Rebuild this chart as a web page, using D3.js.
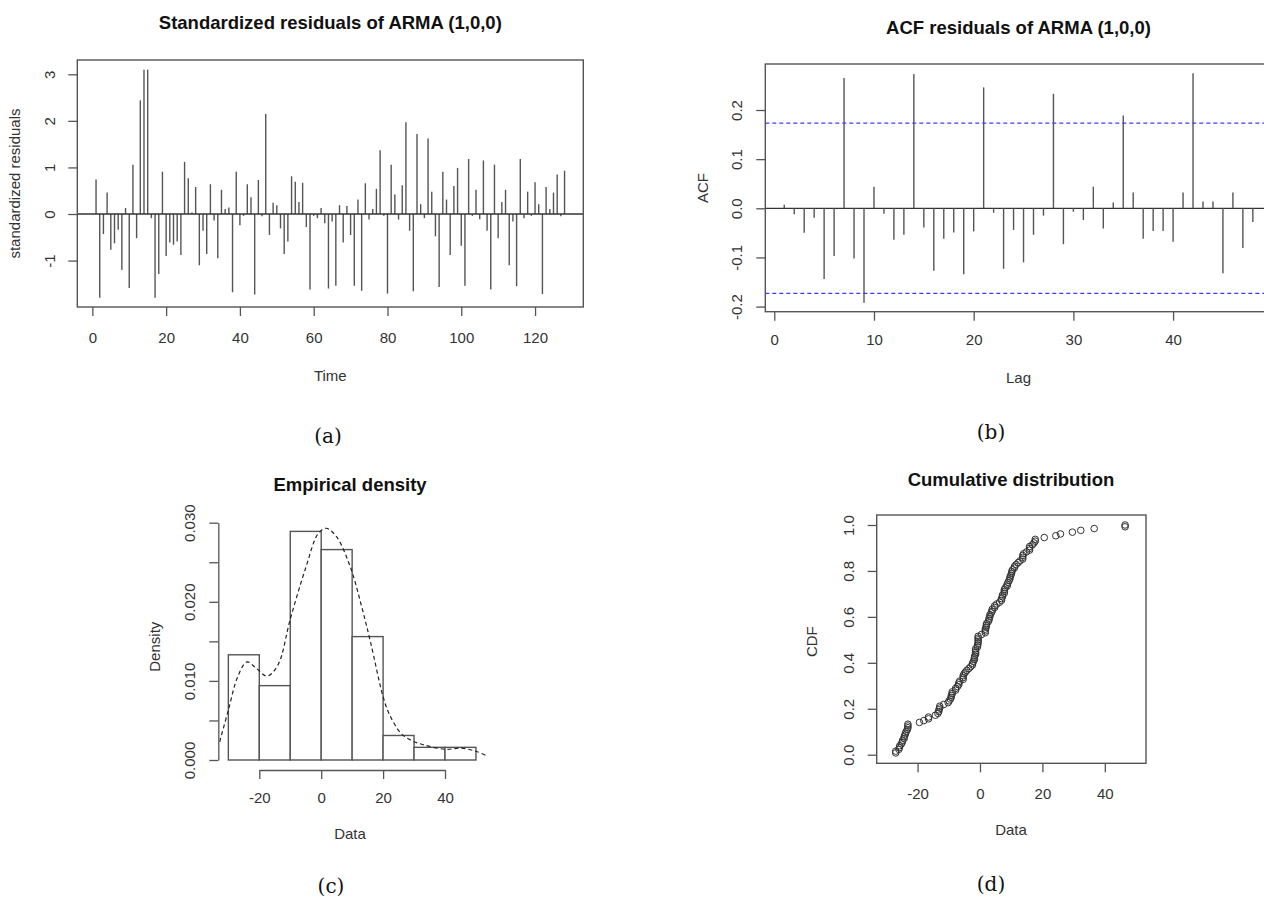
<!DOCTYPE html>
<html>
<head>
<meta charset="utf-8">
<script src="https://cdn.jsdelivr.net/npm/d3@7"></script>
<style>
  html, body { margin: 0; padding: 0; background: #fff; }
  svg text { font-family: "Liberation Sans", Arial, sans-serif; fill: #333; }
  .title { font-weight: bold; font-size: 18.5px; fill: #111; }
  .lab { font-size: 15px; }
  .cap { font-family: "DejaVu Serif", "Liberation Serif", serif; font-size: 20px; fill: #111; }
</style>
</head>
<body>
<svg id="fig" width="1264" height="902"></svg>
<script>
// ---- data ----

// (a) standardized residuals, t = 1..128
const STD_RESID = [
   0.74, -1.80, -0.43,  0.46, -0.77, -0.63, -0.34, -1.20,  0.13, -1.59,
   1.06, -0.52,  2.44,  3.10,  3.10, -0.09, -1.80, -1.29,  0.91, -0.90,
  -0.61, -0.66, -0.59, -0.88,  1.12,  0.77,  0.03,  0.58, -1.10, -0.36,
  -0.86,  0.64, -0.14, -0.95,  0.52,  0.11,  0.14, -1.68,  0.91, -0.24,
  -0.04,  0.64,  0.36, -1.73,  0.73, -0.05,  2.15, -0.45,  0.24,  0.19,
  -0.31, -0.86, -0.59,  0.81,  0.69,  0.26,  0.67, -0.28, -1.62, -0.04,
  -0.09,  0.13, -0.20, -1.60, -0.16, -1.54,  0.19, -0.61,  0.17, -0.45,
  -1.54,  0.31, -1.65,  0.66, -0.12,  0.11,  0.54,  1.37, -0.04, -1.71,
   1.06,  0.42, -0.12,  0.62,  1.97, -0.36, -1.66,  1.72,  0.21, -0.09,
   1.62,  0.48, -0.48, -1.57,  0.91,  0.31, -0.88,  0.60,  0.99, -0.68,
  -1.54,  1.18, -0.04,  0.52, -0.11,  1.15, -0.36, -1.62,  1.06, -0.52,
   0.26,  0.52, -1.10, -0.16, -1.55,  1.18, -0.09,  0.48, -0.04,  0.68,
   0.21, -1.72,  0.58,  0.11,  0.46,  0.85, -0.05,  0.93
];
const TIME_TICKS  = [0, 20, 40, 60, 80, 100, 120];
const RESID_TICKS = [-1, 0, 1, 2, 3];

// (b) sample ACF, lag = 1..48
const ACF_VALUES = [
   0.007, -0.012, -0.050, -0.019, -0.144, -0.097,  0.265, -0.102, -0.192,  0.044,
  -0.011, -0.064, -0.054,  0.273, -0.039, -0.127, -0.062, -0.049, -0.134, -0.047,
   0.246, -0.009, -0.123, -0.044, -0.110, -0.054, -0.015,  0.233, -0.073, -0.007,
  -0.024,  0.044, -0.041,  0.012,  0.189,  0.032, -0.062, -0.046, -0.046, -0.068,
   0.032,  0.275,  0.014,  0.014, -0.132,  0.032, -0.081, -0.028
];
const ACF_CI    = 0.1732;
const LAG_TICKS = [0, 10, 20, 30, 40];
const ACF_TICKS = [-0.2, -0.1, 0.0, 0.1, 0.2];

// (c) histogram + kernel density
const HIST_BREAKS  = [-30, -20, -10, 0, 10, 20, 30, 40, 50];
const HIST_DENSITY = [0.0133, 0.0094, 0.0289, 0.0266, 0.0156, 0.0031, 0.0016, 0.0016];
const DENS_X = [-32.8, -30, -27, -24, -21, -17.5, -14, -10, -5, -1, 1.6, 5, 9.5, 13, 16,
                20, 22, 25.7, 29, 33.2, 40.2, 45, 50, 53.6];
const DENS_Y = [0.0023, 0.0063, 0.0105, 0.0124, 0.0116, 0.0106, 0.0120, 0.0178, 0.0243,
                0.0286, 0.0293, 0.0282, 0.0243, 0.0195, 0.0148, 0.0080, 0.0058, 0.0034,
                0.0025, 0.0019, 0.00135, 0.0015, 0.0011, 0.0005];
const DATA_TICKS    = [-20, 0, 20, 40];
const DENSITY_TICKS = [0, 0.005, 0.010, 0.015, 0.020, 0.025, 0.030];

// (d) sorted residuals for the empirical CDF
const ECDF_DATA = [
  -27.0, -27.0, -26.0, -25.8, -25.7, -25.2, -24.9, -24.8, -24.3, -24.3, -24.0, -23.9,
  -23.6, -23.3, -23.1, -23.1, -23.1, -19.4, -18.0, -16.5, -16.5, -14.3, -13.5, -13.2,
  -13.2, -12.9, -12.9, -11.6, -10.2,  -9.9,  -9.5,  -9.2,  -9.2,  -8.9,  -8.9,  -7.8,
   -7.8,  -7.2,  -6.8,  -6.8,  -6.5,  -5.4,  -5.4,  -5.4,  -5.1,  -4.7,  -4.2,  -3.6,
   -3.0,  -2.4,  -2.4,  -2.1,  -1.8,  -1.8,  -1.7,  -1.4,  -1.4,  -1.4,  -1.4,  -0.8,
   -0.8,  -0.6,  -0.6,  -0.6,  -0.6,  -0.6,   0.5,   1.7,   1.7,   1.7,   2.0,   2.0,
    2.1,   2.6,   2.9,   2.9,   3.2,   3.2,   3.6,   3.9,   3.9,   4.7,   4.7,   5.4,
    6.3,   6.9,   6.9,   7.2,   7.2,   7.8,   7.8,   7.8,   8.1,   8.7,   8.7,   9.0,
    9.3,   9.6,   9.6,   9.9,  10.1,  10.2,  10.4,  11.0,  11.1,  11.6,  12.2,  12.8,
   13.7,  13.7,  13.7,  14.0,  14.9,  15.9,  15.9,  15.9,  16.8,  17.3,  17.7,  17.7,
   20.6,  24.3,  25.8,  29.6,  32.3,  36.6,  46.5,  46.5
];
const CDF_TICKS = [0, 0.2, 0.4, 0.6, 0.8, 1.0];

// ---- drawing ----
const LINE   = '#555';
const TICK   = 9;
const svg    = d3.select('#fig');

// R prints an ascii hyphen for negatives, d3 a unicode minus
const locale = d3.formatLocale({ decimal: '.', thousands: ',', grouping: [3], currency: ['$', ''], minus: '-' });
const fmtInt = locale.format('d');
const fmt1   = locale.format('.1f');
const fmt3   = locale.format('.3f');

svg.append('rect').attr('width', 1264).attr('height', 902).attr('fill', '#fff');

/**
 * Bottom axis with R-like ticks, labels centred labelOff px below the axis.
 */
function bottomAxis (scale, ticks, y0, labelOff, fmt, keepDomain) {
    let g = svg.append('g')
        .attr('transform', `translate(0,${y0})`)
        .call(d3.axisBottom(scale).tickValues(ticks).tickSize(TICK).tickSizeOuter(0).tickFormat(fmt));
    if (!keepDomain) g.select('.domain').remove();
    g.selectAll('line, path').attr('stroke', LINE).attr('stroke-width', 1.3);
    g.selectAll('text')
        .attr('class', 'lab')
        .attr('y', labelOff)
        .attr('dy', '0.35em')
        .attr('fill', null);
    g.attr('font-size', null).attr('font-family', null);
    return g;
}

/**
 * Left axis with labels rotated parallel to the axis, as R draws them.
 */
function leftAxis (scale, ticks, x0, labelOff, fmt, keepDomain) {
    let g = svg.append('g')
        .attr('transform', `translate(${x0},0)`)
        .call(d3.axisLeft(scale).tickValues(ticks).tickSize(TICK).tickSizeOuter(0).tickFormat(fmt));
    if (!keepDomain) g.select('.domain').remove();
    g.selectAll('line, path').attr('stroke', LINE).attr('stroke-width', 1.3);
    g.selectAll('text')
        .attr('class', 'lab')
        .attr('x', 0)
        .attr('y', -labelOff)
        .attr('dy', '0.35em')
        .attr('text-anchor', 'middle')
        .attr('transform', 'rotate(-90)')
        .attr('fill', null);
    g.attr('font-size', null).attr('font-family', null);
    return g;
}

function label (text, x, y, cls, rotate) {
    svg.append('text')
        .attr('class', cls)
        .attr('text-anchor', 'middle')
        .attr('dy', '0.35em')
        .attr('transform', `translate(${x},${y})` + (rotate ? ' rotate(-90)' : ''))
        .text(text);
}

function box (x0, x1, y0, y1) {
    svg.append('rect')
        .attr('x', x0).attr('y', y0)
        .attr('width', x1 - x0).attr('height', y1 - y0)
        .attr('fill', 'none')
        .attr('stroke', LINE)
        .attr('stroke-width', 1.4);
}

// (a) standardized residuals
{
    let x = d3.scaleLinear().domain([-4.08, 133.08]).range([77.3, 583.3]);
    let y = d3.scaleLinear().domain([-1.997, 3.307]).range([307, 60]);

    svg.append('g')
        .selectAll('line')
        .data(STD_RESID)
        .join('line')
        .attr('x1', (d, i) => x(i + 1)).attr('x2', (d, i) => x(i + 1))
        .attr('y1', y(0)).attr('y2', d => y(d))
        .attr('stroke', LINE)
        .attr('stroke-width', 1.4);

    svg.append('line')
        .attr('x1', x.range()[0]).attr('x2', x.range()[1])
        .attr('y1', y(0)).attr('y2', y(0))
        .attr('stroke', '#333').attr('stroke-width', 1.3);

    box(77.3, 583.3, 60, 307);
    bottomAxis(x, TIME_TICKS, 307, 31, fmtInt);
    leftAxis(y, RESID_TICKS, 77.3, 27.5, fmtInt);

    label('Standardized residuals of ARMA (1,0,0)', 330.3, 23, 'title');
    label('Time', 330.3, 376, 'lab');
    label('standardized residuals', 15, 183.5, 'lab', true);
    label('(a)', 328, 436, 'cap');
}

// (b) ACF of residuals
{
    let x = d3.scaleLinear().domain([-0.9, 49.9]).range([765.3, 1271.8]);
    let y = d3.scaleLinear().domain([-0.2104, 0.2936]).range([311.7, 64]);

    svg.append('line')
        .attr('x1', x.range()[0]).attr('x2', x.range()[1])
        .attr('y1', y(0)).attr('y2', y(0))
        .attr('stroke', '#333').attr('stroke-width', 1.3);

    svg.append('g')
        .selectAll('line')
        .data(ACF_VALUES)
        .join('line')
        .attr('x1', (d, i) => x(i + 1)).attr('x2', (d, i) => x(i + 1))
        .attr('y1', y(0)).attr('y2', d => y(d))
        .attr('stroke', LINE)
        .attr('stroke-width', 1.4);

    // confidence band
    svg.append('g')
        .selectAll('line')
        .data([ACF_CI, -ACF_CI])
        .join('line')
        .attr('x1', x.range()[0]).attr('x2', x.range()[1])
        .attr('y1', d => y(d)).attr('y2', d => y(d))
        .attr('stroke', '#3b3bff')
        .attr('stroke-width', 1.2)
        .attr('stroke-dasharray', '4,3');

    box(765.3, 1271.8, 64, 311.7);
    bottomAxis(x, LAG_TICKS, 311.7, 28.5, fmtInt);
    leftAxis(y, ACF_TICKS, 765.3, 28.6, fmt1);

    label('ACF residuals of ARMA (1,0,0)', 1018.5, 28, 'title');
    label('Lag', 1018.5, 378, 'lab');
    label('ACF', 703, 188, 'lab', true);
    label('(b)', 991, 432, 'cap');
}

// (c) empirical density
{
    let x = d3.scaleLinear().domain([-20, 40]).range([259.3, 445]);
    let y = d3.scaleLinear().domain([0, 0.03]).range([760, 522.7]);

    let bins = HIST_DENSITY.map((d, i) => ({ x0: HIST_BREAKS[i], x1: HIST_BREAKS[i + 1], d: d }));

    svg.append('g')
        .selectAll('rect')
        .data(bins)
        .join('rect')
        .attr('x', b => x(b.x0))
        .attr('width', b => x(b.x1) - x(b.x0))
        .attr('y', b => y(b.d))
        .attr('height', b => y(0) - y(b.d))
        .attr('fill', '#fff')
        .attr('stroke', LINE)
        .attr('stroke-width', 1.4);

    let curve = d3.line()
        .x(d => x(d[0]))
        .y(d => y(d[1]))
        .curve(d3.curveCatmullRom.alpha(0.5));

    svg.append('path')
        .attr('d', curve(DENS_X.map((v, i) => [v, DENS_Y[i]])))
        .attr('fill', 'none')
        .attr('stroke', '#222')
        .attr('stroke-width', 1.2)
        .attr('stroke-dasharray', '4,3');

    bottomAxis(x, DATA_TICKS, 770, 28, fmtInt, true);
    let ya = leftAxis(y, DENSITY_TICKS, 218.3, 28.3, fmt3, true);
    // R drops labels that would overlap: only every other one is shown
    ya.selectAll('.tick text').filter(d => Math.round(d * 1000) % 10 !== 0).remove();

    label('Empirical density', 350, 485, 'title');
    label('Data', 350, 834, 'lab');
    label('Density', 155, 646.7, 'lab', true);
    label('(c)', 331, 886, 'cap');
}

// (d) cumulative distribution
{
    let x = d3.scaleLinear().domain([-33.1, 53.2]).range([876.7, 1146]);
    let y = d3.scaleLinear().domain([-0.0374, 1.0435]).range([763.3, 515]);
    let n = ECDF_DATA.length;

    svg.append('g')
        .selectAll('circle')
        .data(ECDF_DATA)
        .join('circle')
        .attr('cx', d => x(d))
        .attr('cy', (d, i) => y((i + 1) / n))
        .attr('r', 3.3)
        .attr('fill', 'none')
        .attr('stroke', '#333')
        .attr('stroke-width', 1);

    box(876.7, 1146, 515, 763.3);
    bottomAxis(x, DATA_TICKS, 763.3, 30, fmtInt);
    leftAxis(y, CDF_TICKS, 876.7, 28.4, fmt1);

    label('Cumulative distribution', 1011, 480, 'title');
    label('Data', 1011, 830, 'lab');
    label('CDF', 811.7, 641.7, 'lab', true);
    label('(d)', 991, 884, 'cap');
}
</script>
</body>
</html>
